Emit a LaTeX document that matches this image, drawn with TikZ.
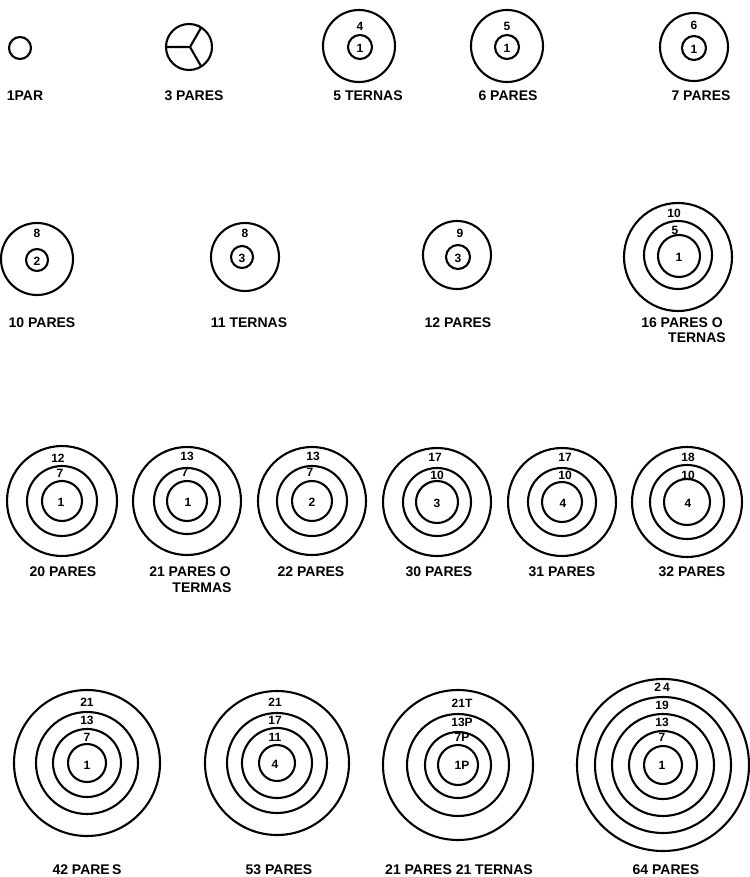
\documentclass[tikz,border=0pt]{standalone}
\usepackage{fontspec}
\setmainfont{Liberation Sans}
\begin{document}
\begin{tikzpicture}[x=1pt,y=-1pt,line width=2.1pt,
  lab/.style={font=\bfseries\fontsize{14}{15}\selectfont,inner sep=0pt},
  num/.style={font=\bfseries\fontsize{12}{13}\selectfont,inner sep=0pt}]
  \useasboundingbox (0,0) rectangle (749,877);
  % first row
  \draw (20,48) circle (11);
  \node[lab] (lpar) at (25,96) {1PAR};
  \draw (189,47) circle (23);
  \draw (166,47) -- (190,47) -- (201.5,27) (190,47) -- (201.5,67);
  \node[lab] (ltres) at (194,96) {3 PARES};
  \draw (359,46) circle (36) (360,47) circle (12);
  \node[num] (a4) at (360,26) {4};
  \node[num] (a1) at (360,48) {1};
  \node[lab] (lcinco) at (368,96) {5 TERNAS};
  \draw (507,46) circle (36) (507,47) circle (12);
  \node[num] (b5) at (507,26) {5};
  \node[num] (b1) at (507,48) {1};
  \node[lab] (lseis) at (508,96) {6 PARES};
  \draw (694,47) circle (34) (694,48) circle (12);
  \node[num] (c6) at (694,25) {6};
  \node[num] (c1) at (694,49) {1};
  \node[lab] (lsiete) at (701,96) {7 PARES};
  % second row
  \draw (37,259) circle (36) (37,260) circle (11);
  \node[num] (d8) at (37,233) {8};
  \node[num] (d2) at (37,261) {2};
  \node[lab] (ldiez) at (42,323) {10 PARES};
  \draw (245,257) circle (34) (242,257) circle (11);
  \node[num] (e8) at (245,233) {8};
  \node[num] (e3) at (242,258) {3};
  \node[lab] (lonce) at (249,323) {11 TERNAS};
  \draw (457,255) circle (34) (458,257) circle (12);
  \node[num] (f9) at (460,233) {9};
  \node[num] (f3) at (458,258) {3};
  \node[lab] (ldoce) at (458,323) {12 PARES};
  \draw (678,257) circle (54) (678,255) circle (34) (679,256) circle (21);
  \node[num] (g10) at (674,213) {10};
  \node[num] (g5) at (675,230) {5};
  \node[num] (g1) at (679,257) {1};
  \node[lab] (lseisd) at (682,323) {16 PARES O};
  \node[lab] (lseisd2) at (697,338) {TERNAS};
  % third row
  \draw (62,501) circle (55) circle (35) circle (20);
  \node[num] (h12) at (58,458) {12};
  \node[num] (h7) at (60,473) {7};
  \node[num] (h1) at (61,502) {1};
  \node[lab] (lveinte) at (63,572) {20 PARES};
  \draw (187,501) circle (54) circle (33) circle (20);
  \node[num] (i13) at (187,456) {13};
  \node[num] (i7) at (185,472) {7};
  \node[num] (i1) at (188,502) {1};
  \node[lab] (lveintiuno) at (190,572) {21 PARES O};
  \node[lab] (lveintiuno2) at (202,588) {TERMAS};
  \draw (312,501) circle (54) circle (35) circle (20);
  \node[num] (j13) at (313,456) {13};
  \node[num] (j7) at (310,472) {7};
  \node[num] (j2) at (312,502) {2};
  \node[lab] (lveintidos) at (311,572) {22 PARES};
  \draw (437,502) circle (54) circle (34) circle (21);
  \node[num] (k17) at (435,457) {17};
  \node[num] (k10) at (437,475) {10};
  \node[num] (k3) at (437,503) {3};
  \node[lab] (ltreinta) at (439,572) {30 PARES};
  \draw (562,502) circle (54) circle (34) circle (20);
  \node[num] (m17) at (565,457) {17};
  \node[num] (m10) at (565,475) {10};
  \node[num] (m4) at (563,503) {4};
  \node[lab] (ltreintauno) at (562,572) {31 PARES};
  \draw (687,502) circle (55) circle (37) circle (23);
  \node[num] (n18) at (688,457) {18};
  \node[num] (n10) at (688,475) {10};
  \node[num] (n4) at (688,503) {4};
  \node[lab] (ltreintados) at (692,572) {32 PARES};
  % fourth row
  \draw (87,763) circle (73) circle (51) circle (34) circle (19);
  \node[num] (p21) at (87,702) {21};
  \node[num] (p13) at (87,720) {13};
  \node[num] (p7) at (87,737) {7};
  \node[num] (p1) at (87,765) {1};
  \node[lab] (lcuarenta) at (87,870) {42 PARE\,S};
  \draw (277,763) circle (72) circle (50) circle (35) circle (18);
  \node[num] (q21) at (275,702) {21};
  \node[num] (q17) at (275,720) {17};
  \node[num] (q11) at (275,737) {11};
  \node[num] (q4) at (275,764) {4};
  \node[lab] (lcincuenta) at (279,870) {53 PARES};
  \draw (458,765) circle (75) circle (51) circle (33) circle (20);
  \node[num] (r21) at (462,703) {21T};
  \node[num] (r13) at (462,722) {13P};
  \node[num] (r7) at (462,737) {7P};
  \node[num] (r1) at (462,765) {1P};
  \node[lab] (lmixto) at (459,870) {21 PARES 21 TERNAS};
  \draw (663,765) circle (86) circle (68) circle (51) circle (34) circle (19);
  \node[num] (s24) at (662,687) {2\,4};
  \node[num] (s19) at (662,705) {19};
  \node[num] (s13) at (662,722) {13};
  \node[num] (s7) at (662,737) {7};
  \node[num] (s1) at (662,765) {1};
  \node[lab] (lsesenta) at (666,870) {64 PARES};
\end{tikzpicture}
\end{document}
